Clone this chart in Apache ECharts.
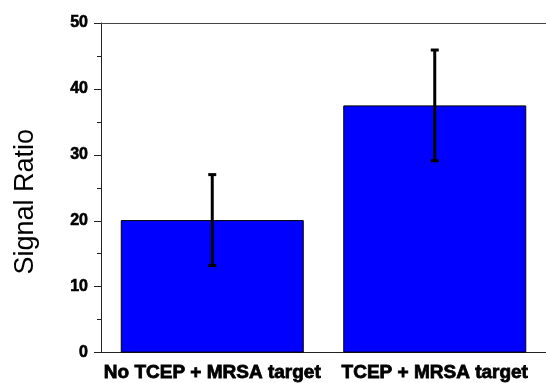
<!DOCTYPE html>
<html>
<head>
<meta charset="utf-8">
<script src="https://cdn.jsdelivr.net/npm/echarts@6/dist/echarts.min.js"></script>
<style>
  html, body { margin: 0; padding: 0; background: #fff; }
  #chart { width: 546px; height: 383px; }
</style>
</head>
<body>
<div id="chart"></div>
<script>
const categories = ['No TCEP + MRSA target', 'TCEP + MRSA target'];
const signalRatio = [20.1, 37.5];
const errorPlusMinus = [6.9, 8.4];
const yTicks = [0, 10, 20, 30, 40, 50];

const chart = echarts.init(document.getElementById('chart'));

const errorData = signalRatio.map((v, i) => [i, v - errorPlusMinus[i], v + errorPlusMinus[i]]);

const option = {
  animation: false,
  grid: {
    left: 101,
    top: 23,
    width: 454,
    height: 332
  },
  xAxis: [
    {
      type: 'category',
      data: categories,
      axisLine: { lineStyle: { color: '#222', width: 1 } },
      axisTick: { alignWithLabel: true, length: 6, lineStyle: { color: '#222' } },
      axisLabel: {
        interval: 0,
        color: '#000',
        fontFamily: 'Liberation Sans, Arial',
        fontWeight: 'bold',
        fontSize: 19,
        textBorderColor: '#000',
        textBorderWidth: 0.8,
        margin: 11
      }
    },
    {
      // minor tick at the category boundary
      type: 'category',
      data: categories,
      position: 'bottom',
      axisLine: { show: false },
      axisTick: { length: 3, lineStyle: { color: '#222' } },
      axisLabel: { show: false }
    },
    {
      // top frame line
      type: 'category',
      data: categories,
      position: 'top',
      axisLine: { show: true, lineStyle: { color: '#444', width: 1 } },
      axisTick: { show: false },
      axisLabel: { show: false }
    }
  ],
  yAxis: {
    type: 'value',
    min: yTicks[0],
    max: yTicks[yTicks.length - 1],
    interval: 10,
    name: 'Signal Ratio',
    nameLocation: 'middle',
    nameRotate: 90,
    nameGap: 62,
    nameTextStyle: {
      color: '#000',
      fontFamily: 'Liberation Sans, Arial',
      fontSize: 27,
      padding: [0, 28, 0, 0]
    },
    axisLine: { show: true, lineStyle: { color: '#222', width: 1 } },
    axisTick: { show: true, length: 7, lineStyle: { color: '#222' } },
    minorTick: { show: true, splitNumber: 2, length: 4, lineStyle: { color: '#222' } },
    splitLine: { show: false },
    axisLabel: {
      color: '#000',
      fontFamily: 'Liberation Sans, Arial',
      fontWeight: 'bold',
      fontSize: 16,
      textBorderColor: '#000',
      textBorderWidth: 0.6,
      margin: 13
    }
  },
  series: [
    {
      type: 'bar',
      xAxisIndex: 0,
      data: signalRatio,
      barWidth: 183,
      itemStyle: { color: '#0000ff', borderColor: '#000', borderWidth: 1 }
    },
    {
      type: 'custom',
      xAxisIndex: 0,
      data: errorData,
      z: 10,
      renderItem: function (params, api) {
        const x = api.value(0);
        const lo = api.coord([x, api.value(1)]);
        const hi = api.coord([x, api.value(2)]);
        const cap = 4;
        const style = { stroke: '#000', lineWidth: 3 };
        return {
          type: 'group',
          children: [
            { type: 'line', shape: { x1: hi[0], y1: hi[1], x2: lo[0], y2: lo[1] }, style: style },
            { type: 'line', shape: { x1: hi[0] - cap, y1: hi[1], x2: hi[0] + cap, y2: hi[1] }, style: style },
            { type: 'line', shape: { x1: lo[0] - cap, y1: lo[1], x2: lo[0] + cap, y2: lo[1] }, style: style }
          ]
        };
      }
    }
  ]
};

chart.setOption(option);
</script>
</body>
</html>
